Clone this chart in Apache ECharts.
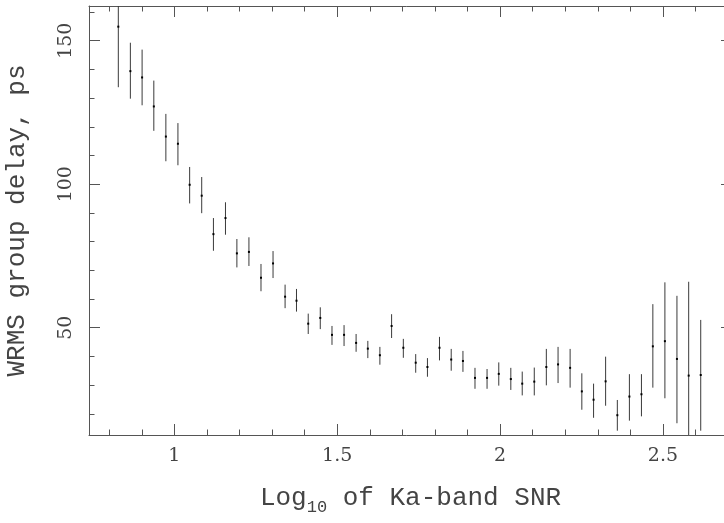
<!DOCTYPE html>
<html>
<head>
<meta charset="utf-8">
<script src="https://cdn.jsdelivr.net/npm/echarts@6/dist/echarts.min.js"></script>
<style>html,body{margin:0;padding:0;background:#fff}#c{width:724px;height:523px}</style>
</head>
<body>
<div id="c"></div>
<script>
// Log10 of Ka-band SNR (bin centres)
const snrLog = [0.828,0.865,0.901,0.937,0.974,1.011,1.047,1.084,1.120,1.157,
  1.192,1.229,1.266,1.303,1.340,1.375,1.411,1.448,1.484,1.521,
  1.558,1.594,1.631,1.667,1.703,1.741,1.777,1.814,1.850,1.886,
  1.923,1.960,1.996,2.033,2.068,2.105,2.142,2.178,2.215,2.251,
  2.287,2.324,2.360,2.397,2.434,2.469,2.506,2.543,2.579,2.616];
// WRMS group delay, ps (central value)
const wrms = [154.9,139.4,137.2,127.1,116.6,114.1,99.8,96.0,82.6,88.2,
  75.9,76.4,67.4,72.4,60.8,59.4,51.4,53.4,47.5,47.5,
  44.7,42.7,40.4,50.6,43.0,37.8,36.3,43.0,38.9,38.4,
  32.5,32.5,33.9,32.1,30.5,31.2,36.3,37.2,36.0,27.8,
  24.9,31.3,19.5,26.0,26.8,43.5,45.3,39.1,33.3,33.5];
// lower end of error bar
const wrmsLow = [133.8,129.8,127.5,118.6,108.0,106.6,93.3,89.9,76.8,82.4,
  71.0,71.5,62.7,67.3,56.8,55.6,47.8,49.5,44.0,43.6,
  41.6,39.4,37.1,46.4,39.5,34.3,32.9,38.6,35.0,34.6,
  28.7,28.7,29.8,28.3,26.4,26.4,29.9,30.7,29.1,21.4,
  18.6,22.8,14.1,17.6,19.1,29.1,25.4,16.7,0.6,14.1];
// upper end of error bar
const wrmsHigh = [176.0,149.3,146.9,136.1,124.5,121.3,106.0,102.5,88.2,93.7,
  80.9,81.5,72.2,76.7,65.0,63.5,54.9,57.1,50.6,50.9,
  47.8,45.4,43.3,54.7,46.1,40.8,39.4,46.8,42.6,41.9,
  36.0,35.6,37.9,36.0,34.7,36.1,42.6,43.3,42.6,34.1,
  30.5,39.9,24.8,33.8,33.8,58.2,65.8,61.1,66.0,52.7];

const xMajorTicks = [1, 1.5, 2, 2.5];
const xTickLabels = ['1', '1.5', '2', '2.5'];
const xMinorTicks = [0.8,0.9,1.1,1.2,1.3,1.4,1.6,1.7,1.8,1.9,2.1,2.2,2.3,2.4,2.6,2.7];
const yMajorTicks = [50, 100, 150];
const yTickLabels = ['50', '100', '150'];
const yMinorTicks = [20,30,40,60,70,80,90,110,120,130,140,160];

const X_MIN = 0.738, X_MAX = 2.712, Y_MIN = 12.6, Y_MAX = 162.1;
const AX = '#555';
const LABEL_FONT = 'DejaVu Serif';
const TITLE_FONT = 'Liberation Mono';

const data = snrLog.map((x, i) => [x, wrms[i], wrmsLow[i], wrmsHigh[i]]);

function xAxisDef(pos, major, showLine, showLabel) {
  return {
    type: 'value', position: pos, min: X_MIN, max: X_MAX,
    splitLine: { show: false },
    axisLine: { show: showLine, lineStyle: { color: AX, width: 1 } },
    axisTick: { show: true, inside: true, length: major ? 11 : 5.5,
      customValues: major ? xMajorTicks : xMinorTicks,
      lineStyle: { color: AX, width: 1 } },
    axisLabel: showLabel ? {
      show: true, customValues: xMajorTicks, margin: 12,
      formatter: v => xTickLabels[xMajorTicks.indexOf(+(+v).toFixed(2))] ?? String(v),
      fontFamily: LABEL_FONT, fontSize: 19, color: '#444'
    } : { show: false }
  };
}
function yAxisDef(pos, major, showLine, showLabel) {
  return {
    type: 'value', position: pos, min: Y_MIN, max: Y_MAX,
    splitLine: { show: false },
    axisLine: { show: showLine, lineStyle: { color: AX, width: 1 } },
    axisTick: { show: true, inside: true, length: major ? 11 : 5.5,
      customValues: major ? yMajorTicks : yMinorTicks,
      lineStyle: { color: AX, width: 1 } },
    axisLabel: showLabel ? {
      show: true, customValues: yMajorTicks, margin: 13, rotate: 90,
      formatter: v => yTickLabels[yMajorTicks.indexOf(Math.round(v))] ?? String(v),
      fontFamily: LABEL_FONT, fontSize: 19, color: '#444'
    } : { show: false }
  };
}

const xAxes = [
  xAxisDef('bottom', true, true, true),
  xAxisDef('bottom', false, false, false),
  xAxisDef('top', true, true, false),
  xAxisDef('top', false, false, false)
];
Object.assign(xAxes[0], {
  name: '{m|Log}{s|10}{m| of Ka-band SNR}',
  nameLocation: 'middle', nameGap: 53,
  nameTextStyle: {
    fontFamily: TITLE_FONT, color: '#444',
    rich: {
      m: { fontFamily: TITLE_FONT, fontSize: 26, lineHeight: 28, color: '#444', verticalAlign: 'bottom', padding: [0,0,5,0] },
      s: { fontFamily: TITLE_FONT, fontSize: 17, lineHeight: 18, color: '#444', verticalAlign: 'bottom' }
    }
  }
});
const yAxes = [
  yAxisDef('left', true, true, true),
  yAxisDef('left', false, false, false),
  yAxisDef('right', true, true, false),
  yAxisDef('right', false, false, false)
];
Object.assign(yAxes[0], {
  name: 'WRMS group delay, ps', nameLocation: 'middle', nameGap: 59, nameRotate: 90,
  nameTextStyle: { fontFamily: TITLE_FONT, fontSize: 26, color: '#444' }
});

function renderItem(params, api) {
  const x = api.value(0), c = api.value(1), lo = api.value(2), hi = api.value(3);
  const pC = api.coord([x, c]);
  const pLo = api.coord([x, lo]);
  const pHi = api.coord([x, hi]);
  const cs = params.coordSys;
  const top = Math.max(pHi[1], cs.y);
  const bot = Math.min(pLo[1], cs.y + cs.height);
  return {
    type: 'group',
    children: [
      { type: 'line', shape: { x1: pC[0], y1: top, x2: pC[0], y2: bot },
        style: { stroke: '#3a3a3a', lineWidth: 1 } },
      { type: 'rect', shape: { x: pC[0] - 1, y: pC[1] - 1, width: 2, height: 2 },
        style: { fill: '#000' } }
    ]
  };
}

const chart = echarts.init(document.getElementById('c'), null, { renderer: 'canvas' });
chart.setOption({
  animation: false,
  backgroundColor: '#fff',
  grid: { left: 89, top: 6, width: 643, height: 429, containLabel: false, outerBoundsMode: 'none' },
  xAxis: xAxes,
  yAxis: yAxes,
  series: [{
    type: 'custom', xAxisIndex: 0, yAxisIndex: 0,
    renderItem: renderItem,
    encode: { x: 0, y: 1 },
    data: data
  }]
});
</script>
</body>
</html>
